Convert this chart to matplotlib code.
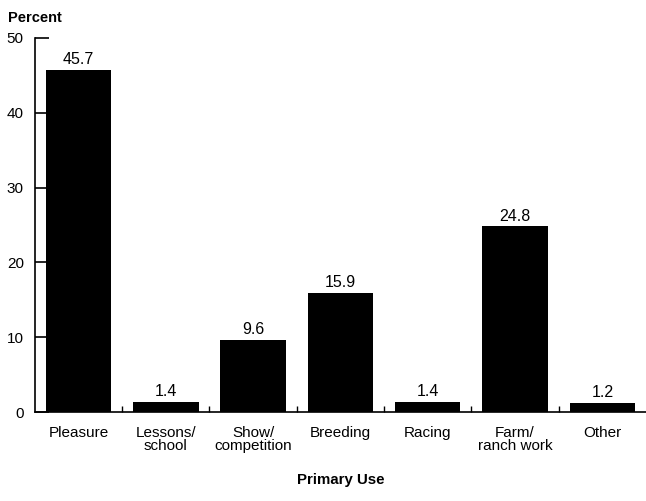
import matplotlib.pyplot as plt
import numpy as np

plt.rcParams['font.family'] = ['Liberation Sans', 'DejaVu Sans']

categories = ["Pleasure", "Lessons/\nschool", "Show/\ncompetition", "Breeding",
              "Racing", "Farm/\nranch work", "Other"]
percent = [45.7, 1.4, 9.6, 15.9, 1.4, 24.8, 1.2]

fig = plt.figure(figsize=(6.46, 5.01), dpi=100)
ax = fig.add_axes([0.054, 0.1776, 0.946, 0.7466])

x = np.arange(len(categories))
ax.bar(x, percent, width=0.75, color='black')

for xi, v in zip(x, percent):
    ax.text(xi, v + 0.4, f"{v}", ha='center', va='bottom', fontsize=11.5)

ax.set_xlim(-0.5, len(categories) - 0.5)
ax.set_ylim(0, 50)
ax.set_yticks([0, 10, 20, 30, 40, 50])
ax.set_xticks(x)
ax.set_xticklabels(categories, fontsize=11, linespacing=0.9)
ax.set_xticks(x[:-1] + 0.5, minor=True)
ax.tick_params(axis='x', which='major', length=0, pad=10)
ax.tick_params(axis='x', which='minor', direction='in', length=4, width=1)
ax.tick_params(axis='y', direction='in', length=10, width=1.2, labelsize=11, pad=8)

for s in ['top', 'right']:
    ax.spines[s].set_visible(False)
ax.spines['left'].set_linewidth(1.2)
ax.spines['bottom'].set_linewidth(1.2)

fig.text(0.012, 0.965, "Percent", fontsize=10.5, fontweight='bold', ha='left', va='center')
fig.text(0.527, 0.042, "Primary Use", fontsize=10.8, fontweight='bold', ha='center', va='center')

fig.savefig("out.png", dpi=100)
